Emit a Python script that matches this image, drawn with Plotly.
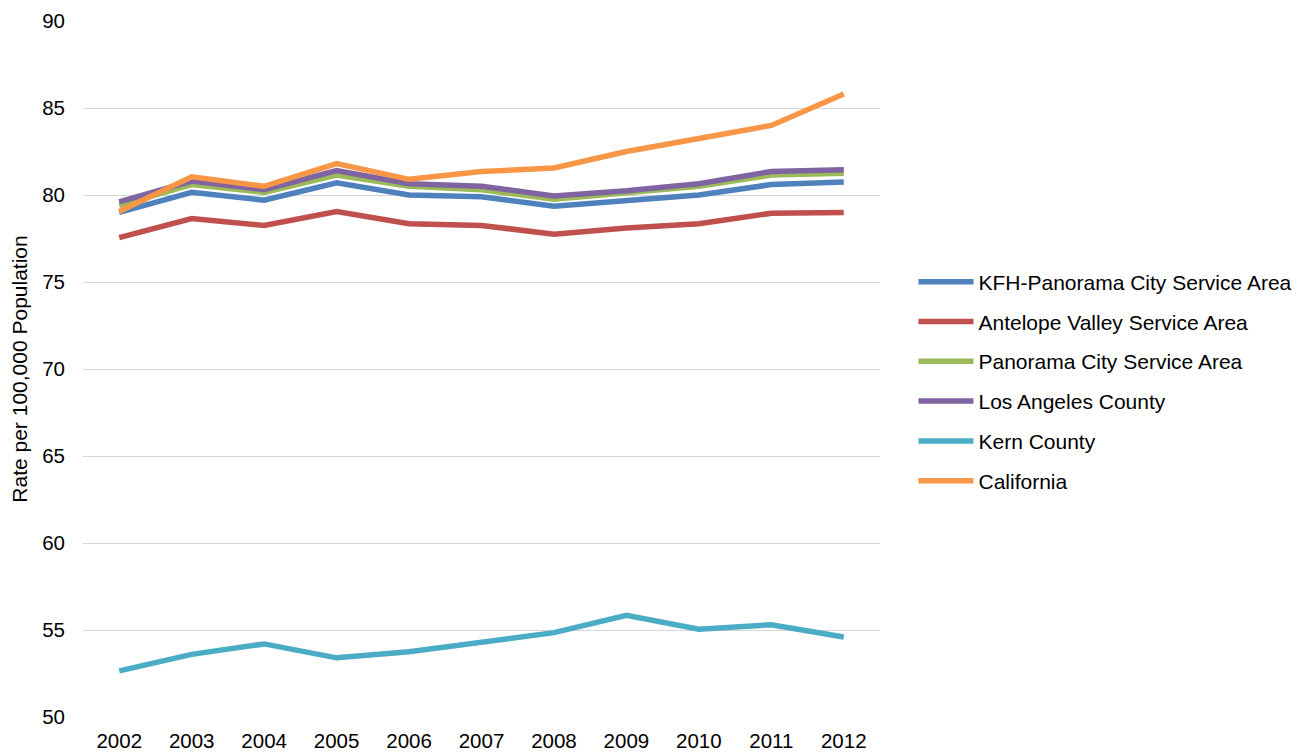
import plotly.graph_objects as go

years = ["2002", "2003", "2004", "2005", "2006", "2007", "2008", "2009", "2010", "2011", "2012"]

kfh_panorama = [79.0, 80.15, 79.7, 80.7, 80.0, 79.9, 79.35, 79.65, 80.0, 80.6, 80.75]
antelope_valley = [77.55, 78.65, 78.25, 79.05, 78.35, 78.25, 77.75, 78.1, 78.35, 78.95, 79.0]
panorama_city = [79.4, 80.6, 80.15, 81.15, 80.5, 80.3, 79.75, 80.15, 80.5, 81.15, 81.25]
los_angeles = [79.6, 80.8, 80.3, 81.4, 80.65, 80.5, 79.95, 80.25, 80.65, 81.35, 81.45]
kern = [52.65, 53.6, 54.2, 53.4, 53.75, 54.3, 54.85, 55.85, 55.05, 55.3, 54.6]
california = [79.05, 81.05, 80.5, 81.8, 80.9, 81.35, 81.55, 82.5, 83.25, 84.0, 85.8]

series = [
    ("KFH-Panorama City Service Area", kfh_panorama, "#4F81BD"),
    ("Antelope Valley Service Area", antelope_valley, "#C0504D"),
    ("Panorama City Service Area", panorama_city, "#9BBB59"),
    ("Los Angeles County", los_angeles, "#8064A2"),
    ("Kern County", kern, "#4BACC6"),
    ("California", california, "#F79646"),
]

fig = go.Figure()
for i, (name, vals, color) in enumerate(series):
    fig.add_trace(go.Scatter(
        x=years, y=vals, name=name, mode="lines",
        line=dict(color=color, width=5.5),
        legendgroup=f"g{i}",
    ))

font = "Liberation Sans, Arial, sans-serif"
fig.update_layout(
    width=1310, height=754,
    paper_bgcolor="white", plot_bgcolor="white",
    margin=dict(l=75, r=438, t=13, b=45),
    font=dict(family=font, size=20.5, color="#000000"),
    showlegend=True,
    legend=dict(
        x=1.042, y=0.482, xanchor="left", yanchor="middle",
        font=dict(family=font, size=21, color="#000000"),
        itemwidth=55, tracegroupgap=9.5,
        bgcolor="rgba(0,0,0,0)",
    ),
    xaxis=dict(
        type="category", range=[-0.5, 10.5],
        showgrid=False, showline=False, zeroline=False,
        ticks="", tickfont=dict(size=20.5), ticklabelstandoff=9, automargin=False,
    ),
    yaxis=dict(
        range=[50, 90], dtick=5, tick0=50,
        showgrid=True, gridcolor="#D6D6D6", gridwidth=1.2,
        zeroline=False, showline=False, ticks="",
        tickfont=dict(size=20.5), ticklabelstandoff=17, automargin=False,
        title=dict(text="Rate per 100,000 Population", font=dict(size=21), standoff=9),
    ),
)

fig.write_html("out.html")
